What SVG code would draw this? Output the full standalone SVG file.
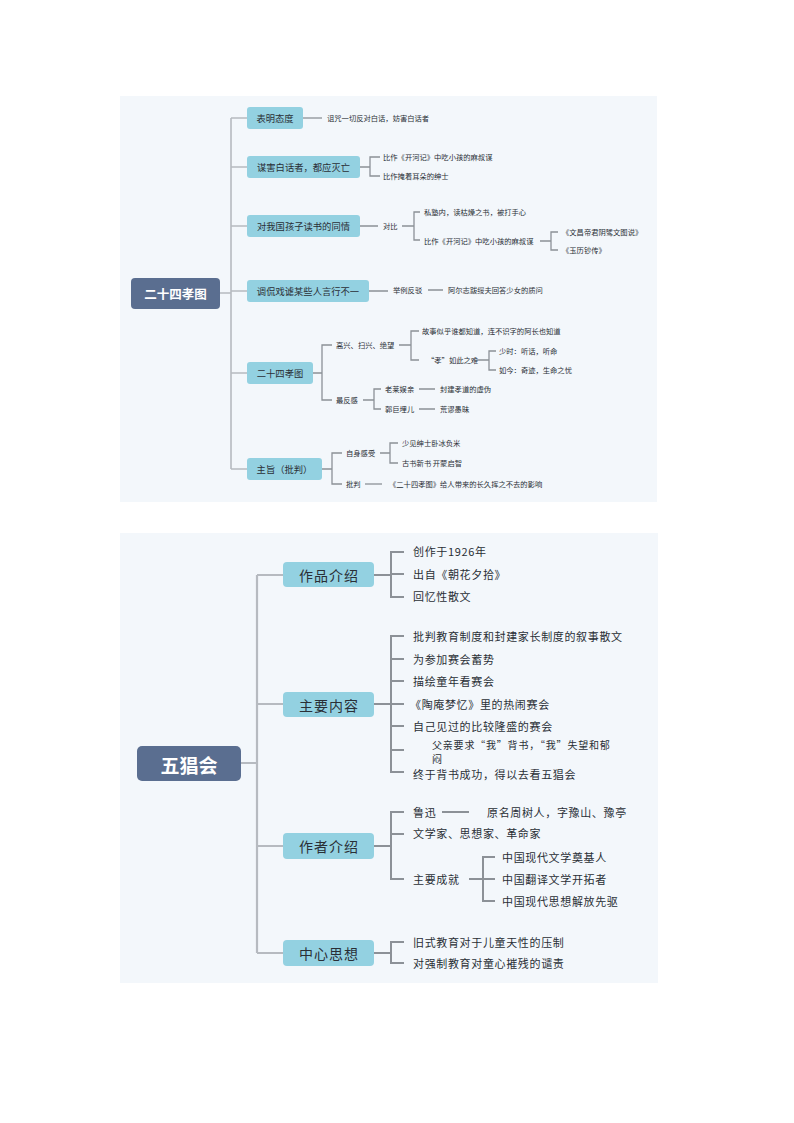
<svg xmlns="http://www.w3.org/2000/svg" width="794" height="1123" viewBox="0 0 794 1123">
<style>
text{font-family:"Noto Sans CJK SC","Liberation Sans",sans-serif;dominant-baseline:central;fill:#2a2f36}
.panel{fill:#f3f7fb}
.box{fill:#93d1e1}
.root{fill:#5a6e90}
.rt{fill:#ffffff;font-weight:bold;text-anchor:middle}
.bt{text-anchor:middle}
.trunk{fill:none;stroke:#b6bac0;stroke-width:1.6}
.ln{fill:none;stroke:#8c9197;stroke-width:1.3}
.ln2{fill:none;stroke:#8c9197;stroke-width:2}
.trunk2{fill:none;stroke:#b6bac0;stroke-width:2.2}
.s{font-size:7.3px}
.m{font-size:9.3px}
.L{font-size:11px;letter-spacing:0.65px}
.W{font-size:10px;letter-spacing:0.8px}
.B{font-size:14px;letter-spacing:1px}
</style>
<rect width="794" height="1123" fill="#ffffff"/>
<rect class="panel" x="120" y="96" width="537" height="406"/>
<rect class="panel" x="120" y="533" width="538" height="450"/>

<g id="connectors-top">
<path class="trunk" d="M220 293H231M231 118V469M231 118H247M231 167H247M231 226H247M231 291H247M231 373H247M231 469H247"/>
<path class="ln" d="M303 118H322"/>
<path class="ln" d="M360 167H370M380 157H370V176H380"/>
<path class="ln" d="M360 226H378M402 226H414M420 212H414V240H420"/>
<path class="ln" d="M540 241H551M558 232H551V250H558"/>
<path class="ln" d="M369 291H388M428 290H443"/>
<path class="ln" d="M313 373H322M332 345H322V400H332"/>
<path class="ln" d="M399 345H411M419 331H411V360H419"/>
<path class="ln" d="M477 360H489M496 351H489V370H496"/>
<path class="ln" d="M363 400H374M381 389H374V409H381M419 389H435M419 409H435"/>
<path class="ln" d="M322 469H332M342 453H332V484H342"/>
<path class="ln" d="M380 453H390M398 443H390V463H398"/>
<path class="ln" d="M365 484H382"/>
</g>

<g id="root-top"><rect class="root" x="131" y="278" width="89" height="31" rx="4"/><text class="rt" x="175.5" y="293.5" font-size="12.5">二十四孝图</text></g>
<g id="n-biaoming"><rect class="box" x="247" y="107" width="56" height="22" rx="3"/><text class="bt m" x="275" y="118">表明态度</text></g>
<g id="n-mouhai"><rect class="box" x="247" y="156" width="113" height="22" rx="3"/><text class="bt m" x="303.5" y="167">谋害白话者，都应灭亡</text></g>
<g id="n-tongqing"><rect class="box" x="247" y="215" width="113" height="22" rx="3"/><text class="bt m" x="303.5" y="226">对我国孩子读书的同情</text></g>
<g id="n-tiaokan"><rect class="box" x="247" y="280" width="122" height="22" rx="3"/><text class="bt m" x="308" y="291">调侃戏谑某些人言行不一</text></g>
<g id="n-24xiao"><rect class="box" x="247" y="362" width="66" height="22" rx="3"/><text class="bt m" x="280" y="373">二十四孝图</text></g>
<g id="n-zhuzhi"><rect class="box" x="247" y="458" width="75" height="22" rx="3"/><text class="bt m" x="284.5" y="469">主旨（批判）</text></g>

<g id="leaves-top">
<text class="s" x="327" y="118">诅咒一切反对白话，妨害白话者</text>
<text class="s" x="383" y="157">比作《开河记》中吃小孩的麻叔谋</text>
<text class="s" x="383" y="176">比作掩着耳朵的绅士</text>
<text class="s" x="383" y="226">对比</text>
<text class="s" x="424" y="212">私塾内，读枯燥之书，被打手心</text>
<text class="s" x="424" y="241">比作《开河记》中吃小孩的麻叔谋</text>
<text class="s" x="562" y="232">《文昌帝君阴骘文图说》</text>
<text class="s" x="562" y="250">《玉历钞传》</text>
<text class="s" x="393" y="290">举例反驳</text>
<text class="s" x="448" y="290">阿尔志跋绥夫回答少女的质问</text>
<text class="s" x="336" y="345">高兴、扫兴、绝望</text>
<text class="s" x="422" y="331">故事似乎谁都知道，连不识字的阿长也知道</text>
<text class="s" x="427" y="360">“孝”如此之难</text>
<text class="s" x="499" y="351">少时：听话，听命</text>
<text class="s" x="499" y="370">如今：奇迹，生命之忧</text>
<text class="s" x="336" y="400">最反感</text>
<text class="s" x="385" y="389">老莱娱亲</text>
<text class="s" x="440" y="389">封建孝道的虚伪</text>
<text class="s" x="385" y="409">郭巨埋儿</text>
<text class="s" x="440" y="409">荒谬愚昧</text>
<text class="s" x="346" y="453">自身感受</text>
<text class="s" x="402" y="443">少见绅士卧冰负米</text>
<text class="s" x="402" y="463">古书新书 开蒙启智</text>
<text class="s" x="346" y="484">批判</text>
<text class="s" x="389" y="484">《二十四孝图》给人带来的长久挥之不去的影响</text>
</g>

<g id="connectors-bottom">
<path class="trunk2" d="M241 763H257M257 575V953M257 575H283M257 704H283M257 846H283M257 953H283"/>
<path class="ln2" d="M374 575H391M404 552H391V597H404M391 574H404"/>
<path class="ln2" d="M374 704H391M404 636H391V772H404M391 659H404M391 681H404M391 704H404M391 726H404M391 750H404"/>
<path class="ln2" d="M374 846H391M404 812H391V879H404M391 834H404M442 812H469"/>
<path class="ln2" d="M469 879H483M495 857H483V901H495M483 879H495"/>
<path class="ln2" d="M374 953H391M404 942H391V963H404"/>
</g>

<g id="root-bottom"><rect class="root" x="137" y="746" width="104" height="35" rx="5"/><text class="rt" x="189" y="764" font-size="19">五猖会</text></g>
<g id="n-zuopin"><rect class="box" x="283" y="562" width="91" height="25" rx="4"/><text class="bt B" x="329" y="575">作品介绍</text></g>
<g id="n-zhuyao"><rect class="box" x="283" y="692" width="91" height="25" rx="4"/><text class="bt B" x="329" y="705">主要内容</text></g>
<g id="n-zuozhe"><rect class="box" x="283" y="833" width="91" height="26" rx="4"/><text class="bt B" x="329" y="846">作者介绍</text></g>
<g id="n-zhongxin"><rect class="box" x="283" y="940" width="91" height="26" rx="4"/><text class="bt B" x="329" y="953">中心思想</text></g>

<g id="leaves-bottom">
<text class="L" x="413" y="551">创作于1926年</text>
<text class="L" x="413" y="574">出自《朝花夕拾》</text>
<text class="L" x="413" y="596">回忆性散文</text>
<text class="L" x="413" y="636">批判教育制度和封建家长制度的叙事散文</text>
<text class="L" x="413" y="659">为参加赛会蓄势</text>
<text class="L" x="413" y="681">描绘童年看赛会</text>
<text class="L" x="410" y="704">《陶庵梦忆》里的热闹赛会</text>
<text class="L" x="413" y="726">自己见过的比较隆盛的赛会</text>
<text class="W"><tspan x="432" y="743.5">父亲要求“我”背书，“我”失望和郁</tspan><tspan x="432" y="758">闷</tspan></text>
<text class="L" x="413" y="773.5">终于背书成功，得以去看五猖会</text>
<text class="L" x="413" y="812">鲁迅</text>
<text class="L" x="487" y="812">原名周树人，字豫山、豫亭</text>
<text class="L" x="413" y="833">文学家、思想家、革命家</text>
<text class="L" x="413" y="879">主要成就</text>
<text class="L" x="502" y="857">中国现代文学奠基人</text>
<text class="L" x="502" y="879">中国翻译文学开拓者</text>
<text class="L" x="502" y="901">中国现代思想解放先驱</text>
<text class="L" x="413" y="942">旧式教育对于儿童天性的压制</text>
<text class="L" x="413" y="963">对强制教育对童心摧残的谴责</text>
</g>
</svg>
